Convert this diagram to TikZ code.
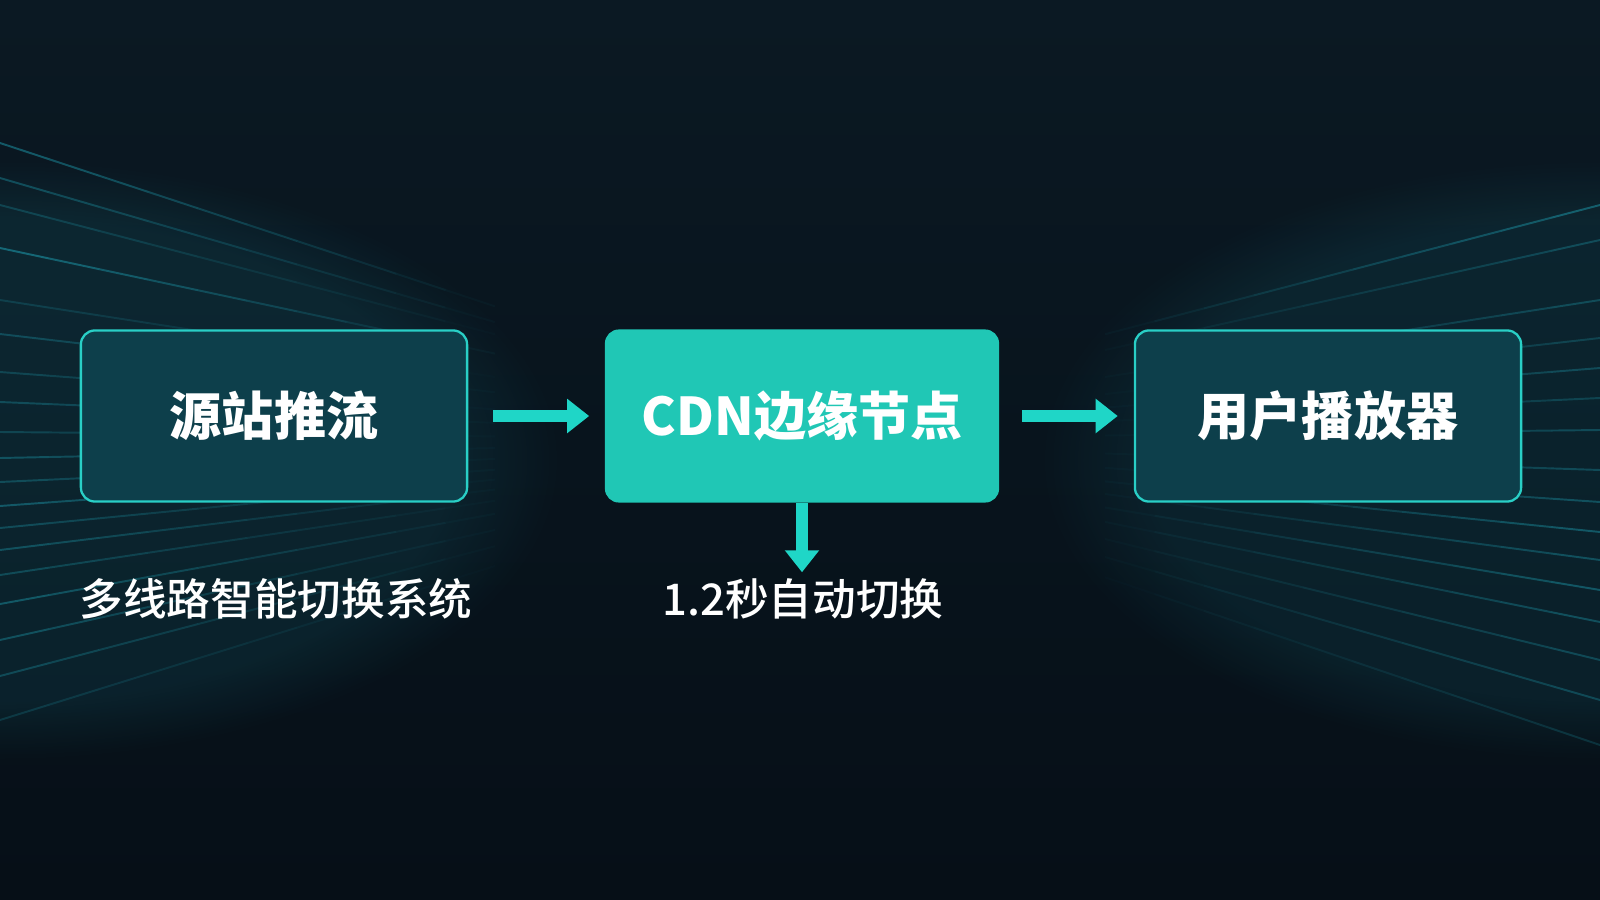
\documentclass[tikz,border=0pt]{standalone}
\usepackage{fontspec}
\setmainfont{Noto Sans CJK SC}
\newfontfamily\notefont{Noto Sans CJK SC Medium}
\usepackage{tikz}
\usetikzlibrary{arrows.meta, calc, fadings}

\definecolor{bgtop}{HTML}{0B1923}
\definecolor{bgmid}{HTML}{08141D}
\definecolor{bgbot}{HTML}{060F17}
\definecolor{streak}{HTML}{1FA9BC}
\definecolor{haze}{HTML}{1A6F7E}
\definecolor{sidefill}{HTML}{0D3F4B}
\definecolor{sideedge}{HTML}{29CFC6}
\definecolor{cdnfill}{HTML}{20C7B5}
\definecolor{flow}{HTML}{1FD6C7}

\tikzset{
  sidebox/.style={draw=sideedge, line width=0.65pt, fill=sidefill, rounded corners=0.14cm,
    minimum width=3.86cm, minimum height=1.71cm, text=white,
    font=\fontsize{14.8}{18}\selectfont\bfseries},
  cdnbox/.style={fill=cdnfill, rounded corners=0.14cm,
    minimum width=3.94cm, minimum height=1.73cm, text=white,
    font=\fontsize{14.8}{18}\selectfont\bfseries},
  note/.style={text=white, font=\fontsize{12.4}{15}\notefont},
  flowarrow/.style={draw=flow, line width=0.12cm, -{Triangle[length=0.22cm, width=0.33cm]}},
  bgline/.style={draw=streak, line width=0.55pt}
}

\begin{document}
\begin{tikzpicture}[x=0.01cm, y=-0.01cm]
\useasboundingbox (0,0) rectangle (1600,900);

% Background
\shade[top color=bgtop, bottom color=bgbot, middle color=bgmid] (0,0) rectangle (1600,900);
\fill[haze, opacity=0.18, path fading=circle with fuzzy edge 20 percent] (0,460) ellipse [x radius=560, y radius=300];
\fill[haze, opacity=0.16, path fading=circle with fuzzy edge 20 percent] (1600,460) ellipse [x radius=560, y radius=300];

% Left streaks, running towards a point right of the first box
\foreach \ya/\op in {143/0.45, 178/0.35, 205/0.25, 248/0.5, 300/0.2, 334/0.3, 372/0.25, 402/0.3,
                    432/0.25, 458/0.35, 482/0.3, 506/0.4, 528/0.3, 550/0.35, 575/0.3,
                    604/0.4, 640/0.35, 676/0.3, 720/0.2} {
  \foreach \k in {0,...,9} {
    \pgfmathsetmacro{\segop}{\op*(1-\k/10)}
    \draw[bgline, opacity=\segop] ($(0,\ya)!{\k*0.055}!(900,440)$) -- ($(0,\ya)!{(\k+1)*0.055}!(900,440)$);
  }
}
% Right streaks
\foreach \ya/\op in {205/0.45, 240/0.3, 300/0.3, 338/0.25, 368/0.3, 398/0.25, 430/0.3,
                    470/0.3, 502/0.35, 532/0.4, 560/0.35, 590/0.4, 622/0.35, 660/0.3,
                    700/0.3, 745/0.2} {
  \foreach \k in {0,...,9} {
    \pgfmathsetmacro{\segop}{\op*(1-\k/10)}
    \draw[bgline, opacity=\segop] ($(1600,\ya)!{\k*0.055}!(700,440)$) -- ($(1600,\ya)!{(\k+1)*0.055}!(700,440)$);
  }
}

% Boxes
\node[sidebox] (src) at (274,416) {源站推流};
\node[cdnbox] (cdn) at (802,416) {CDN边缘节点};
\node[sidebox] (player) at (1328,416) {用户播放器};

% Notes
\node[note] (srcnote) at (276,599) {多线路智能切换系统};
\node[note] (cdnnote) at (803,599) {1.2秒自动切换};

% Arrows
\draw[flowarrow, shorten <=0.25cm, shorten >=0.15cm] (src.east) -- (cdn.west);
\draw[flowarrow, shorten <=0.22cm, shorten >=0.16cm] (cdn.east) -- (player.west);
\draw[flowarrow, shorten >=-0.06cm] (cdn.south) -- (cdn.south |- cdnnote.north);

\end{tikzpicture}
\end{document}
